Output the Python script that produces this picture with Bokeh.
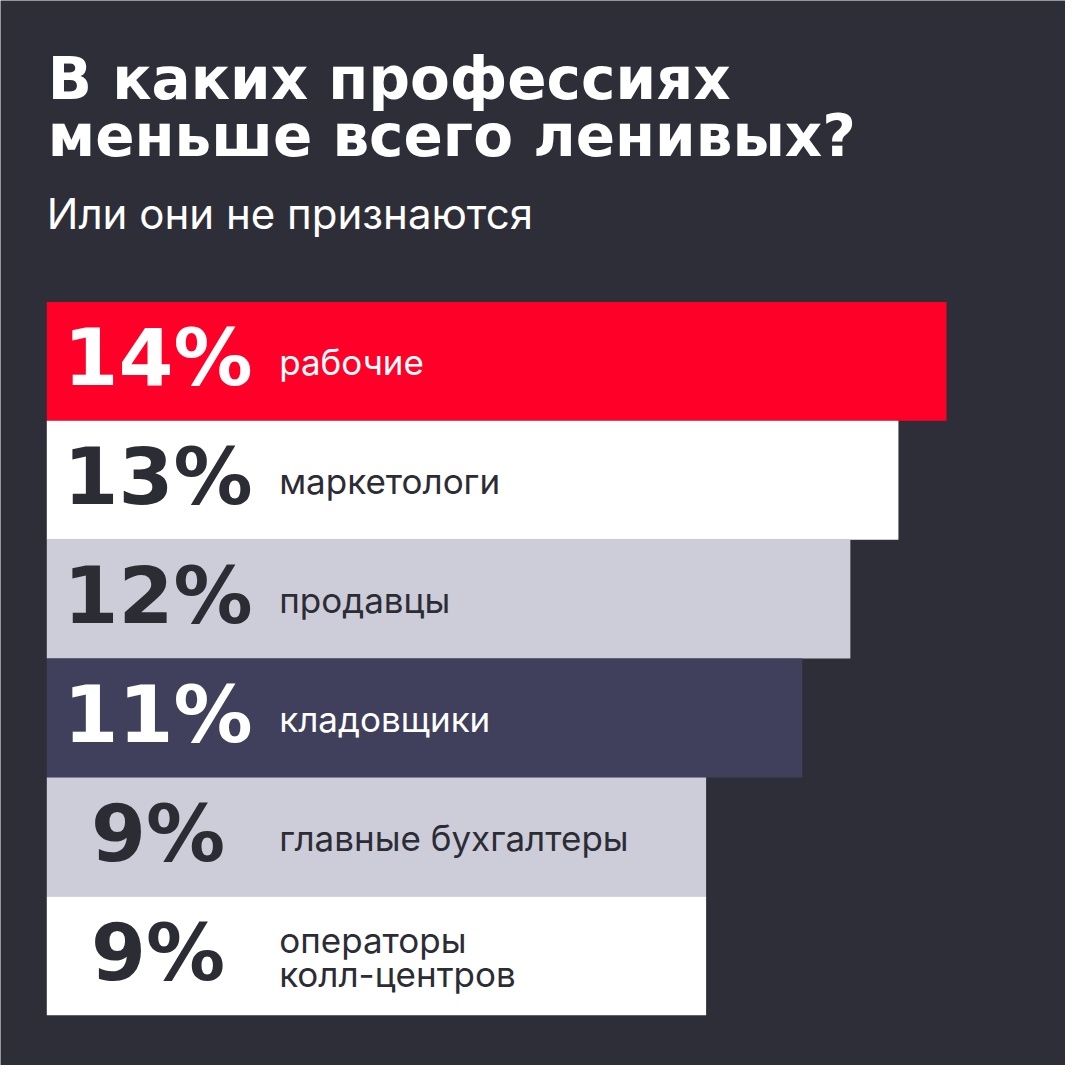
from bokeh.plotting import figure
from bokeh.models import ColumnDataSource, Range1d, Label
from bokeh.core.properties import value
from bokeh.embed import file_html
from bokeh.resources import INLINE

# ---- data ----
categories = ["рабочие", "маркетологи", "продавцы", "кладовщики",
              "главные бухгалтеры", "операторы\nколл-центров"]
values = [14, 13, 12, 11, 9, 9]
pct_labels = ["14%", "13%", "12%", "11%", "9%", "9%"]
title_lines = ["В каких профессиях", "меньше всего ленивых?"]
subtitle = "Или они не признаются"

# ---- styles ----
BG = "#2e2e38"
bar_colors = ["#ff0029", "#ffffff", "#cdcdd9", "#40405c", "#cdcdd9", "#ffffff"]
text_colors = ["#ffffff", "#2c2c35", "#2c2c35", "#ffffff", "#2c2c35", "#2c2c35"]

W = H = 1065
K = W / 1081.0
BAR_BASE = -4.713      # left edge of the bars (in value units)
PCT_X = -2.40          # centre of the percentage labels
CAT_X = 0.12           # left edge of the category labels

rows = list(range(len(values)))
src = ColumnDataSource(dict(
    y=rows, v=values, base=[BAR_BASE] * len(values),
    cat=categories, pct=pct_labels, color=bar_colors, tcolor=text_colors,
    px=[PCT_X] * len(values), cx=[CAT_X] * len(values),
))

p = figure(width=W, height=H, output_backend="svg", toolbar_location=None,
           x_range=Range1d(-5.676, 16.475), y_range=Range1d(5.923, -3.036),
           min_border=0, background_fill_color=BG, border_fill_color=BG,
           outline_line_color=None)
p.axis.visible = False
p.grid.visible = False

p.hbar(y="y", left="base", right="v", height=1.0, color="color",
       line_color=None, source=src)

p.text(x="px", y="y", text="pct", source=src, text_color="tcolor",
       text_font=value("DejaVu Sans"), text_font_style="bold",
       text_font_size="79px", text_align="center", text_baseline="middle",
       y_offset=-3)

p.text(x="cx", y="y", text="cat", source=src, text_color="tcolor",
       text_font=value("Inter"), text_font_size="35px", text_align="left",
       text_baseline="middle", text_line_height=0.82, y_offset=1)

# title + subtitle (screen units, measured from bottom)
for i, base in enumerate([100, 158]):
    p.add_layout(Label(x=48 * K, y=H - base * K + 20, x_units="screen", y_units="screen",
                       text=title_lines[i], text_color="#ffffff", text_font="DejaVu Sans",
                       text_font_style="bold", text_font_size="58px",
                       text_baseline="alphabetic"))
p.add_layout(Label(x=47 * K, y=H - 235 * K + 19, x_units="screen", y_units="screen",
                   text=subtitle, text_color="#ffffff", text_font="Inter",
                   text_font_size="42px", text_baseline="alphabetic"))

open("out.html", "w").write(file_html(p, INLINE))
